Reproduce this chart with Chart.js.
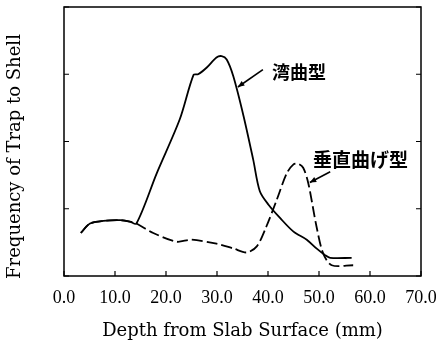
<!DOCTYPE html>
<html>
<head>
<meta charset="utf-8">
<script src="https://cdn.jsdelivr.net/npm/chart.js@4/dist/chart.umd.min.js"></script>
<style>
html,body{margin:0;padding:0;background:#fff;}
canvas{display:block;}
</style>
</head>
<body>
<canvas id="c" width="436" height="345"></canvas>
<script>
// Solid series: 湾曲型
const solidX = [3.3, 5.1, 7.7, 11.0, 12.9, 14.2, 18.2, 22.7, 25.4, 26.3, 28.0, 29.9, 30.9, 31.9, 33.2, 35.2, 37.1, 38.4, 40.1, 42.4, 45.0, 47.6, 49.5, 51.2, 52.2, 56.4];
const solidY = [0.64, 0.78, 0.82, 0.83, 0.81, 0.78, 1.53, 2.33, 2.99, 3.00, 3.10, 3.25, 3.27, 3.22, 2.97, 2.38, 1.73, 1.26, 1.06, 0.86, 0.66, 0.54, 0.41, 0.31, 0.27, 0.27];
// Dashed series: 垂直曲げ型
const dashX = [3.3, 5.1, 7.7, 11.0, 12.9, 14.2, 17.5, 22.1, 25.0, 29.9, 33.2, 35.8, 37.8, 39.7, 41.7, 43.7, 45.0, 45.9, 46.9, 47.9, 49.5, 50.8, 52.5, 56.7];
const dashY = [0.64, 0.78, 0.82, 0.83, 0.81, 0.78, 0.64, 0.51, 0.54, 0.48, 0.41, 0.35, 0.44, 0.74, 1.13, 1.53, 1.66, 1.67, 1.61, 1.38, 0.74, 0.34, 0.16, 0.16];
const seriesNames = ['湾曲型', '垂直曲げ型'];
const xTicks = [0, 10, 20, 30, 40, 50, 60, 70];
const yTicks = [0, 1, 2, 3, 4];
const xTitle = 'Depth from Slab Surface (mm)';
const yTitle = 'Frequency of Trap to Shell';

const toPts = (xs, ys) => xs.map((x, i) => ({x: x, y: ys[i]}));

const annotations = [
  {text: seriesNames[0], size: 18, tx: 40.8, ty: 3.03, ax0: 39.0, ay0: 3.07, ax1: 34.1, ay1: 2.81},
  {text: seriesNames[1], size: 19, tx: 48.8, ty: 1.73, ax0: 52.2, ay0: 1.55, ax1: 48.2, ay1: 1.39}
];

const framePlugin = {
  id: 'frame',
  afterDraw(chart) {
    const ctx = chart.ctx, a = chart.chartArea;
    const xs = chart.scales.x, ys = chart.scales.y;
    ctx.save();
    ctx.strokeStyle = '#000';
    ctx.fillStyle = '#000';
    ctx.lineWidth = 1.5;
    ctx.strokeRect(a.left, a.top, a.right - a.left, a.bottom - a.top);
    ctx.lineWidth = 1.2;
    ctx.beginPath();
    xTicks.forEach(v => {
      const px = xs.getPixelForValue(v);
      ctx.moveTo(px, a.bottom); ctx.lineTo(px, a.bottom - 5);
    });
    yTicks.forEach(v => {
      const py = ys.getPixelForValue(v);
      ctx.moveTo(a.left, py); ctx.lineTo(a.left + 5, py);
      ctx.moveTo(a.right, py); ctx.lineTo(a.right - 5, py);
    });
    ctx.stroke();
    // y axis title, placed as in the reference
    ctx.save();
    ctx.translate(15, (a.top + a.bottom) / 2 + 15);
    ctx.rotate(-Math.PI / 2);
    ctx.font = '18px "DejaVu Serif"';
    ctx.textAlign = 'center';
    ctx.textBaseline = 'middle';
    ctx.fillText(yTitle, 0, 0);
    ctx.restore();
    // annotations
    ctx.textBaseline = 'middle';
    ctx.textAlign = 'left';
    annotations.forEach(an => {
      ctx.font = 'bold ' + an.size + 'px "Noto Sans CJK JP"';
      ctx.fillText(an.text, xs.getPixelForValue(an.tx), ys.getPixelForValue(an.ty));
      const x0 = xs.getPixelForValue(an.ax0), y0 = ys.getPixelForValue(an.ay0);
      const x1 = xs.getPixelForValue(an.ax1), y1 = ys.getPixelForValue(an.ay1);
      ctx.lineWidth = 1.6;
      ctx.beginPath(); ctx.moveTo(x0, y0); ctx.lineTo(x1, y1); ctx.stroke();
      const ang = Math.atan2(y1 - y0, x1 - x0);
      const L = 7, w = 0.4;
      ctx.beginPath();
      ctx.moveTo(x1, y1);
      ctx.lineTo(x1 - L * Math.cos(ang - w), y1 - L * Math.sin(ang - w));
      ctx.lineTo(x1 - L * Math.cos(ang + w), y1 - L * Math.sin(ang + w));
      ctx.closePath(); ctx.fill();
    });
    ctx.restore();
  }
};

new Chart(document.getElementById('c'), {
  type: 'line',
  data: {
    datasets: [
      {label: seriesNames[0], data: toPts(solidX, solidY), borderColor: '#000', borderWidth: 1.8, pointRadius: 0, tension: 0.3, fill: false},
      {label: seriesNames[1], data: toPts(dashX, dashY), borderColor: '#000', borderWidth: 1.8, borderDash: [11, 4], pointRadius: 0, tension: 0.3, fill: false}
    ]
  },
  options: {
    responsive: false,
    animation: false,
    layout: {padding: {top: 7, right: 15, left: 0, bottom: 0}},
    plugins: {legend: {display: false}, tooltip: {enabled: false}},
    scales: {
      x: {
        type: 'linear', min: 0, max: 70,
        afterBuildTicks: s => { s.ticks = xTicks.map(v => ({value: v})); },
        afterFit: s => { s.height = 69; s.paddingLeft = 0; s.paddingRight = 0; },
        grid: {display: false, drawTicks: false},
        border: {display: false},
        ticks: {color: '#000', padding: 11, maxRotation: 0, font: {family: 'Liberation Serif', size: 18}, callback: v => v.toFixed(1)},
        title: {display: true, text: xTitle, color: '#000', font: {family: 'DejaVu Serif', size: 18}, padding: {top: 0, bottom: 3}}
      },
      y: {
        type: 'linear', min: 0, max: 4,
        afterBuildTicks: s => { s.ticks = yTicks.map(v => ({value: v})); },
        afterFit: s => { s.width = 64; s.paddingTop = 0; s.paddingBottom = 0; },
        grid: {display: false, drawTicks: false},
        border: {display: false},
        ticks: {display: false},
        title: {display: false}
      }
    }
  },
  plugins: [framePlugin]
});
</script>
</body>
</html>
